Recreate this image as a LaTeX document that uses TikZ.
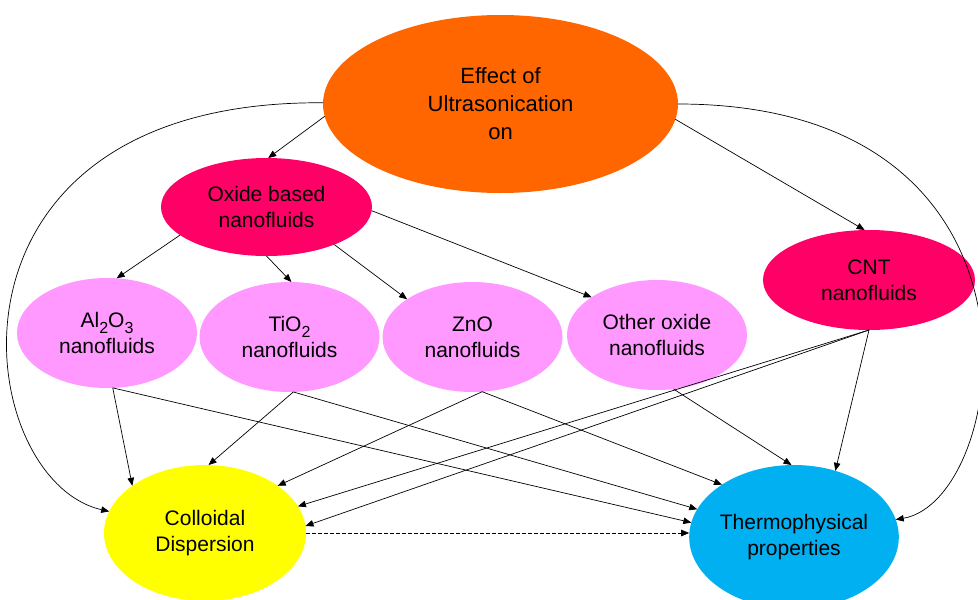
\documentclass[tikz,border=0pt]{standalone}
\usepackage{fontspec}
\setmainfont{Liberation Sans}
\usetikzlibrary{arrows.meta,shapes.geometric}

\definecolor{effectfill}{RGB}{255,102,0}
\definecolor{groupfill}{RGB}{255,0,102}
\definecolor{oxidefill}{RGB}{255,153,255}
\definecolor{collfill}{RGB}{255,255,0}
\definecolor{thermofill}{RGB}{0,176,240}

\newcommand{\lowidx}[1]{\raisebox{-0.3em}{\fontsize{16}{16}\selectfont #1}}

\begin{document}
\begin{tikzpicture}[
  x=1pt, y=-1pt,
  >={Triangle[length=8pt,width=6.5pt]},
  bubble/.style={ellipse, inner sep=0pt, outer sep=0pt, align=center,
    font=\fontsize{21}{26}\selectfont},
  small/.style={bubble, fill=oxidefill, minimum width=180pt, minimum height=110pt},
  link/.style={->, line width=0.7pt}
]
\useasboundingbox (0,0) rectangle (978,600);

% ellipses
\node[bubble, fill=effectfill, minimum width=355pt, minimum height=178pt,
  font=\fontsize{22}{28}\selectfont] (effect) at (500.5,104) {Effect of\\Ultrasonication\\on};
\node[bubble, fill=groupfill, minimum width=211pt, minimum height=98pt] (oxide) at (266.5,207) {Oxide based\\nanofluids};
\node[bubble, fill=groupfill, minimum width=212pt, minimum height=100pt] (cnt) at (869,280) {CNT\\nanofluids};

\node[small] (alo) at (107,333) {Al\lowidx{2}O\lowidx{3}\\nanofluids};
\node[small] (tio) at (289.5,337) {TiO\lowidx{2}\\nanofluids};
\node[small] (zno) at (472.5,337) {ZnO\\nanofluids};
\node[small] (other) at (657,335) {Other oxide\\nanofluids};

\node[bubble, fill=collfill, minimum width=202pt, minimum height=136pt] (coll) at (205,533) {Colloidal\\Dispersion};
\node[bubble, fill=thermofill, minimum width=206pt, minimum height=144pt] (thermo) at (794,537) {Thermophysical\\properties};

% from the top
\draw[link] (effect.184) -- (oxide.88);
\draw[link] (effect.355) -- (cnt.95);
\draw[link] (effect) .. controls (-80,100) and (-30,480) .. (coll);
\draw[link] (effect) .. controls (1070,104) and (1010,500) .. (thermo);

% oxide group to the four kinds
\foreach \t/\a/\b in {alo/198/80, tio/270/88, zno/331/150, other/358/150}
  \draw[link] (oxide.\a) -- (\t.\b);

% into colloidal dispersion
\foreach \s/\a/\b in {alo/276/147, tio/274/87, zno/280/33, cnt/270/16, cnt/270/4}
  \draw[link] (\s.\a) -- (coll.\b);

% into thermophysical properties
\foreach \s/\a/\b in {alo/276/172, tio/274/164, zno/280/144, other/287/92, cnt/270/58}
  \draw[link] (\s.\a) -- (thermo.\b);

\draw[link, dash pattern=on 3.5pt off 2.5pt] (coll.east) -- (coll.east -| thermo.west);

\end{tikzpicture}
\end{document}
